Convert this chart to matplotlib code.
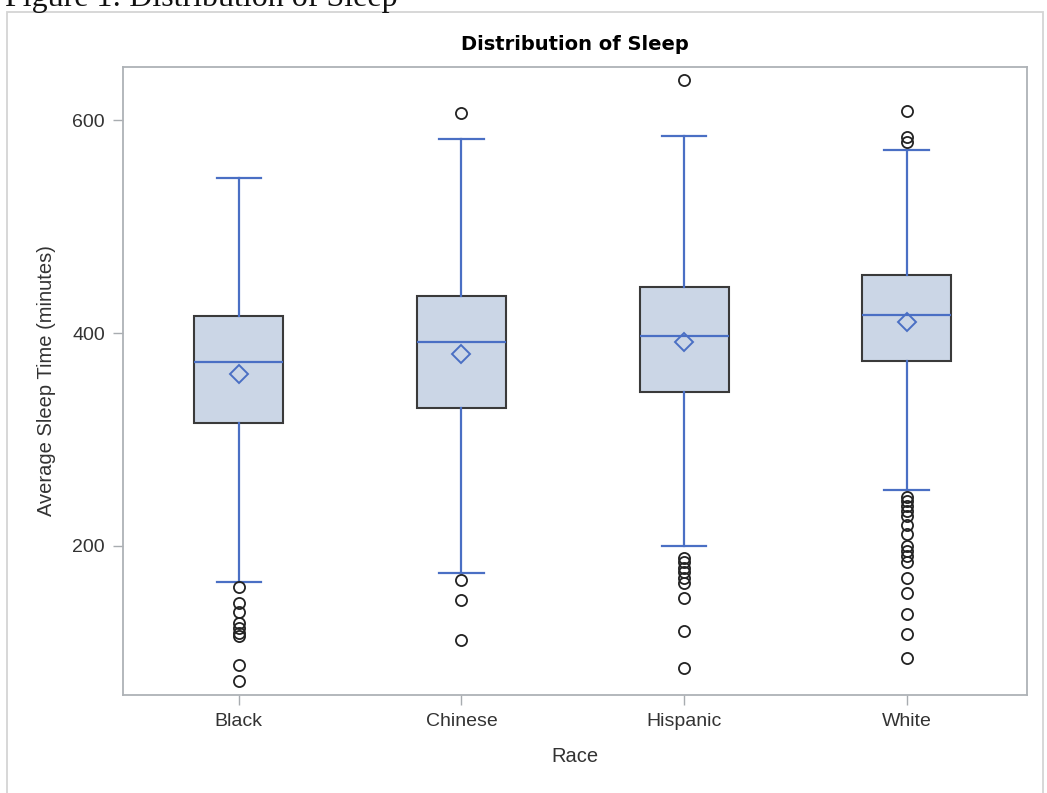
import matplotlib.pyplot as plt
from matplotlib.patches import Rectangle

# summary statistics of average sleep time (minutes) by race
races = ["Black", "Chinese", "Hispanic", "White"]
q1 = [316, 330, 345, 374]
median = [373, 392, 397, 417]
q3 = [416, 435, 443, 455]
mean = [362, 380, 392, 410]
whisker_low = [166, 175, 200, 253]
whisker_high = [546, 582, 585, 572]
outliers = [
    [161, 146, 138, 128, 123, 118, 115, 88, 73],
    [607, 168, 149, 112],
    [638, 189, 185, 179, 176, 170, 165, 151, 120, 85],
    [609, 584, 580, 246, 242, 238, 233, 228, 220, 211, 200, 195, 191, 185,
     170, 156, 136, 117, 95],
]
y_ticks = [200, 400, 600]

stats = []
for i, name in enumerate(races):
    stats.append(dict(label=name, q1=q1[i], med=median[i], q3=q3[i],
                      mean=mean[i], whislo=whisker_low[i],
                      whishi=whisker_high[i], fliers=outliers[i]))

blue = "#4a6fc4"
text_color = "#333333"

fig = plt.figure(figsize=(10.47, 7.93), dpi=100)
ax = fig.add_axes([123 / 1047, 1 - 695 / 793, 904 / 1047, 628 / 793])

ax.bxp(stats, positions=range(len(races)), widths=0.40, showmeans=True,
       patch_artist=True, capwidths=0.20,
       boxprops=dict(facecolor="#cbd6e6", edgecolor="#3a3a3a", linewidth=1.5),
       whiskerprops=dict(color=blue, linewidth=1.6),
       capprops=dict(color=blue, linewidth=1.6),
       medianprops=dict(color=blue, linewidth=1.6),
       meanprops=dict(marker="D", markerfacecolor="none",
                      markeredgecolor=blue, markersize=9.5, markeredgewidth=1.4),
       flierprops=dict(marker="o", markerfacecolor="none",
                       markeredgecolor="#222222", markersize=8,
                       markeredgewidth=1.3))

ax.set_xlim(-0.52, 3.54)
ax.set_ylim(60, 650)
ax.set_yticks(y_ticks)
ax.set_xticks(range(len(races)))
ax.set_xticklabels(races)

font = "Liberation Sans"
for lab in ax.get_xticklabels() + ax.get_yticklabels():
    lab.set_fontfamily(font)
    lab.set_fontsize(14)
    lab.set_color(text_color)
ax.tick_params(length=7, width=1, color="#a8acb0", pad=6)
for s in ax.spines.values():
    s.set_color("#aeb2b6")
    s.set_linewidth(1.3)

ax.set_xlabel("Race", fontfamily=font, fontsize=14.5, color=text_color,
              labelpad=12)
ax.set_ylabel("Average Sleep Time (minutes)", fontfamily=font, fontsize=14.5,
              color=text_color, labelpad=12)
ax.set_title("Distribution of Sleep", fontfamily="DejaVu Sans",
             fontweight="bold", fontsize=14, pad=12)

# outer frame and the caption above it
fig.patches.append(Rectangle((7 / 1047, -0.05), 1036 / 1047, 1.05 - 12 / 793,
                             transform=fig.transFigure, fill=False,
                             edgecolor="#d4d4d4", linewidth=1.3))
fig.text(5 / 1047, 1 - 6 / 793, "Figure 1: Distribution of Sleep",
         fontfamily="Liberation Serif", fontsize=23, va="baseline",
         color="#111111")

fig.savefig("out.png", dpi=100)
